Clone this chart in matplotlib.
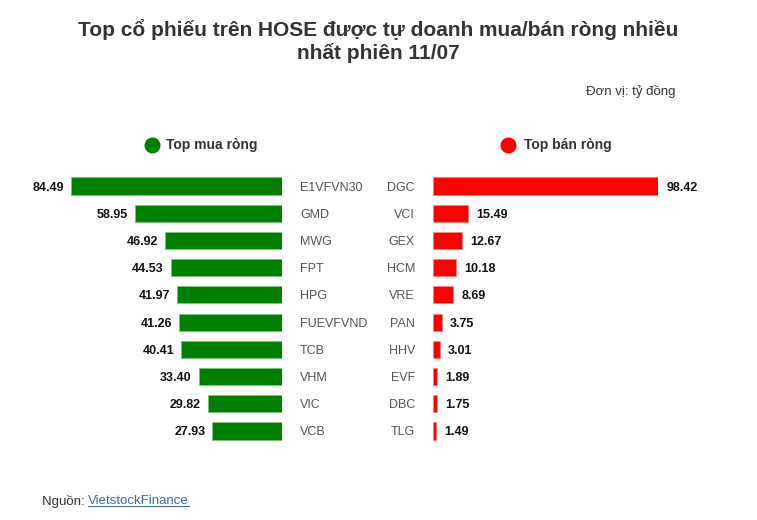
import matplotlib.pyplot as plt
from matplotlib.lines import Line2D

plt.rcParams['font.family'] = ['Liberation Sans', 'DejaVu Sans']

# data
buy_tickers = ["E1VFVN30", "GMD", "MWG", "FPT", "HPG", "FUEVFVND", "TCB", "VHM", "VIC", "VCB"]
buy_values = [84.49, 58.95, 46.92, 44.53, 41.97, 41.26, 40.41, 33.40, 29.82, 27.93]
sell_tickers = ["DGC", "VCI", "GEX", "HCM", "VRE", "PAN", "HHV", "EVF", "DBC", "TLG"]
sell_values = [98.42, 15.49, 12.67, 10.18, 8.69, 3.75, 3.01, 1.89, 1.75, 1.49]

W, H = 757, 520
fig = plt.figure(figsize=(W / 100, H / 100), dpi=100)


def px_axes(x0, x1, y0, y1):
    # pixel box (top-left origin) -> figure axes
    return fig.add_axes([x0 / W, 1 - y1 / H, (x1 - x0) / W, (y1 - y0) / H])


n = len(buy_values)
row_top, row_bot = 172.4, 444.6
ypos = list(range(n))

# left: buy
axl = px_axes(71, 282, row_top, row_bot)
axl.barh(ypos, buy_values, height=0.63, color="#008000", edgecolor="#7fbf7f", linewidth=0.6)
axl.set_xlim(max(buy_values), 0)
axl.set_ylim(n - 0.5, -0.5)
axl.axis("off")
for i, v in enumerate(buy_values):
    axl.annotate(f"{v:.2f}", (v, i), xytext=(-5, 0), textcoords="offset points",
                 ha="right", va="center_baseline", fontsize=9, fontweight="bold", color="#111111")
    axl.annotate(buy_tickers[i], (0, i), xytext=(13, 0), textcoords="offset points",
                 ha="left", va="center_baseline", fontsize=9, color="#555555")

# right: sell
axr = px_axes(433, 658, row_top, row_bot)
axr.barh(ypos, sell_values, height=0.63, color="#ff0000", edgecolor="#ff8080", linewidth=0.6)
axr.set_xlim(0, max(sell_values))
axr.set_ylim(n - 0.5, -0.5)
axr.axis("off")
for i, v in enumerate(sell_values):
    axr.annotate(f"{v:.2f}", (v, i), xytext=(6, 0), textcoords="offset points",
                 ha="left", va="center_baseline", fontsize=9, fontweight="bold", color="#111111")
    axr.annotate(sell_tickers[i], (0, i), xytext=(-13, 0), textcoords="offset points",
                 ha="right", va="center_baseline", fontsize=9, color="#555555")

# title and notes
fig.text(378 / W, 1 - 41 / H, "Top cổ phiếu trên HOSE được tự doanh mua/bán ròng nhiều\nnhất phiên 11/07",
         ha="center", va="center", fontsize=15, fontweight="bold", color="#333333",
         linespacing=1.15)
fig.text(675 / W, 1 - 91 / H, "Đơn vị: tỷ đồng", ha="right", va="center",
         fontsize=9.5, color="#333333")

# legend
for cx, tx, col, lab in [(152, 166, "#008000", "Top mua ròng"), (508, 524, "#ff0000", "Top bán ròng")]:
    fig.add_artist(Line2D([cx / W], [1 - 145 / H], marker="o", markersize=10.5,
                          color=col, linestyle="none", transform=fig.transFigure))
    fig.text(tx / W, 1 - 145 / H, lab, ha="left", va="center",
             fontsize=10, fontweight="bold", color="#333333")

# source
t = fig.text(42 / W, 1 - 501 / H, "Nguồn: ", ha="left", va="center", fontsize=9.5, color="#333333")
fig.canvas.draw()
bb = t.get_window_extent()
src = fig.text(bb.x1 / W, 1 - 501 / H, "VietstockFinance", ha="left", va="center",
               fontsize=9.5, color="#3a6ea5")
fig.canvas.draw()
sb = src.get_window_extent()
fig.add_artist(Line2D([sb.x0 / W, sb.x1 / W], [(sb.y0 + 1) / H, (sb.y0 + 1) / H],
                      color="#3a6ea5", linewidth=0.8))

fig.savefig("out.png", dpi=100)
